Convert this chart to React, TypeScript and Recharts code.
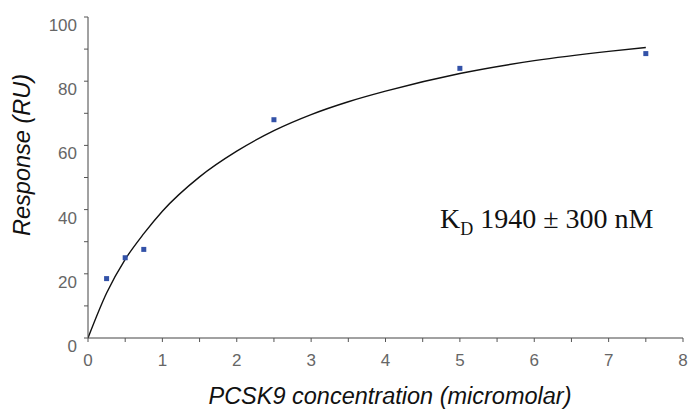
import React from 'react'
import {
  ComposedChart,
  Line,
  Scatter,
  XAxis,
  YAxis,
  Customized,
} from 'recharts'

// measured binding responses
const concentrations = [0.25, 0.5, 0.75, 2.5, 5, 7.5]
const responses = [18.5, 25, 27.6, 68, 84, 88.6]

// fitted saturation curve, sampled along x
const fitX = [0, 0.25, 0.5, 0.75, 1, 1.5, 2, 2.5, 3, 3.5, 4, 5, 6, 7, 7.5]
const fitY = [0, 14, 24.5, 32.5, 39.5, 50.2, 58.2, 64.6, 69.6, 73.6, 76.9, 82.4, 86.4, 89.3, 90.5]

const xTicks = [0, 0.5, 1, 1.5, 2, 2.5, 3, 3.5, 4, 4.5, 5, 5.5, 6, 6.5, 7, 7.5, 8]
const yTicks = [0, 10, 20, 30, 40, 50, 60, 70, 80, 90, 100]

const points = concentrations.map((c, i) => ({ x: c, y: responses[i] }))
const fit = fitX.map((c, i) => ({ x: c, fit: fitY[i] }))

const tickFont = '"Liberation Sans", Arial, sans-serif'

function XTick({ x, y, payload }: any) {
  if (!Number.isInteger(payload.value)) return null
  return (
    <text x={x} y={y} dy={22} textAnchor="middle" fill="#666" fontSize={17} fontFamily={tickFont}>
      {payload.value}
    </text>
  )
}

function YTick({ x, y, payload }: any) {
  if (payload.value % 20 !== 0) return null
  return (
    <text x={x - 5} y={y} dy={14} textAnchor="end" fill="#666" fontSize={17} fontFamily={tickFont}>
      {payload.value}
    </text>
  )
}

function Square({ cx, cy }: any) {
  return <rect x={cx - 2.5} y={cy - 2.5} width={5} height={5} fill="#3352a8" />
}

function Annotations() {
  return (
    <g>
      <text
        x={30}
        y={155}
        transform="rotate(-90 30 155)"
        textAnchor="middle"
        fontSize={23.5}
        fontStyle="italic"
        fontFamily={tickFont}
        fill="#111"
      >
        Response (RU)
      </text>
      <text
        x={390}
        y={404}
        textAnchor="middle"
        fontSize={23.5}
        fontStyle="italic"
        fontFamily={tickFont}
        fill="#111"
      >
        PCSK9 concentration (micromolar)
      </text>
      <text x={440} y={228} fontSize={28} fontFamily='"Liberation Serif", "Times New Roman", serif' fill="#111">
        K
        <tspan dy={7} fontSize={18}>D</tspan>
        <tspan dy={-7}> 1940 ± 300 nM</tspan>
      </text>
    </g>
  )
}

export default function App() {
  return (
    <div style={{ position: 'absolute', left: 0, top: 0, background: '#fff' }}>
      <ComposedChart width={691} height={415} margin={{ top: 17, right: 8, left: 0, bottom: 0 }}>
        <XAxis
          type="number"
          dataKey="x"
          domain={[0, 8]}
          ticks={xTicks}
          interval={0}
          height={77}
          tickSize={4}
          tickMargin={2}
          stroke="#444"
          tickLine={{ stroke: '#555' }}
          tick={<XTick />}
          allowDataOverflow
        />
        <YAxis
          type="number"
          domain={[0, 100]}
          ticks={yTicks}
          interval={0}
          width={88}
          tickSize={4}
          tickMargin={2}
          stroke="#444"
          tickLine={{ stroke: '#555' }}
          tick={<YTick />}
        />
        <Line
          data={fit}
          dataKey="fit"
          type="monotone"
          stroke="#111"
          strokeWidth={1.4}
          dot={false}
          activeDot={false}
          isAnimationActive={false}
        />
        <Scatter
          data={points}
          dataKey="y"
          shape={<Square />}
          isAnimationActive={false}
        />
        <Customized component={Annotations} />
      </ComposedChart>
    </div>
  )
}
